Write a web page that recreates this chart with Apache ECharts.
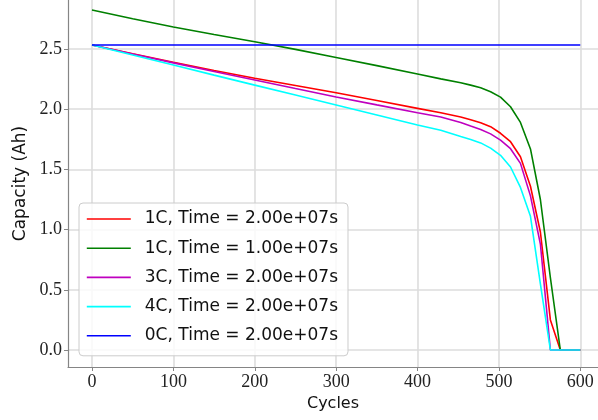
<!DOCTYPE html>
<html>
<head>
<meta charset="utf-8">
<script src="https://cdn.jsdelivr.net/npm/echarts@6/dist/echarts.min.js"></script>
<style>
html,body{margin:0;padding:0;background:#fff;}
#chart{width:598px;height:420px;}
</style>
</head>
<body>
<div id="chart"></div>
<script>
// Cycle positions (x values)
const cycles = [0, 50, 100, 150, 200, 250, 300, 350, 400, 428.6, 453.1, 465.3, 477.6, 489.8, 502.0, 514.3, 526.5, 538.8, 551.0, 563.3, 575.5, 587.8, 600];

// Capacity values (Ah)
const red1C_2e7   = [2.533, 2.460, 2.390, 2.322, 2.257, 2.197, 2.136, 2.072, 2.007, 1.970, 1.935, 1.912, 1.888, 1.855, 1.800, 1.730, 1.605, 1.360, 0.980, 0.250, 0.000, 0.000, 0.000];
const green1C_1e7 = [2.824, 2.752, 2.683, 2.620, 2.560, 2.497, 2.430, 2.362, 2.292, 2.252, 2.220, 2.200, 2.178, 2.145, 2.100, 2.020, 1.890, 1.670, 1.250, 0.600, 0.000, 0.000, 0.000];
const mag3C_2e7   = [2.533, 2.458, 2.385, 2.313, 2.243, 2.172, 2.102, 2.036, 1.971, 1.935, 1.890, 1.860, 1.832, 1.795, 1.743, 1.672, 1.550, 1.280, 0.880, 0.000, 0.000, 0.000, 0.000];
const cyan4C_2e7  = [2.533, 2.450, 2.367, 2.283, 2.200, 2.118, 2.035, 1.952, 1.869, 1.825, 1.773, 1.748, 1.720, 1.677, 1.617, 1.520, 1.350, 1.110, 0.550, 0.000, 0.000, 0.000, 0.000];
const blue0C_2e7  = [2.533, 2.533, 2.533, 2.533, 2.533, 2.533, 2.533, 2.533, 2.533, 2.533, 2.533, 2.533, 2.533, 2.533, 2.533, 2.533, 2.533, 2.533, 2.533, 2.533, 2.533, 2.533, 2.533];

const seriesNames = ['1C, Time = 2.00e+07s', '1C, Time = 1.00e+07s', '3C, Time = 2.00e+07s', '4C, Time = 2.00e+07s', '0C, Time = 2.00e+07s'];
const seriesValues = [red1C_2e7, green1C_1e7, mag3C_2e7, cyan4C_2e7, blue0C_2e7];
const seriesColors = ['#ff0000', '#008000', '#bf00bf', '#00ffff', '#0000ff'];

const xTicks = [0, 100, 200, 300, 400, 500, 600];
const yTicks = [0.0, 0.5, 1.0, 1.5, 2.0, 2.5];

const chart = echarts.init(document.getElementById('chart'), null, {renderer: 'canvas'});

const series = seriesNames.map((name, i) => ({
  name: name,
  type: 'line',
  data: cycles.map((c, j) => [c, seriesValues[i][j]]),
  showSymbol: false,
  symbol: 'none',
  lineStyle: {color: seriesColors[i], width: 1.6},
  itemStyle: {color: seriesColors[i]},
  emphasis: {disabled: true},
  animation: false,
  z: 2 + i
}));

const gridColor = '#dddddd';
const axisColor = '#858585';

chart.setOption({
  animation: false,
  backgroundColor: '#ffffff',
  grid: {left: 68, right: 0, top: 0, bottom: 53, containLabel: false},
  xAxis: {
    type: 'value',
    min: -29.5,
    max: 621.8,
    name: 'Cycles',
    nameLocation: 'middle',
    nameGap: 25,
    nameTextStyle: {fontFamily: 'DejaVu Sans', fontSize: 16, color: '#111'},
    axisLine: {show: true, onZero: false, lineStyle: {color: axisColor, width: 1.2}},
    axisTick: {show: true, length: 4, customValues: xTicks, lineStyle: {color: axisColor, width: 1}},
    axisLabel: {show: true, customValues: xTicks, margin: 6, fontFamily: 'Liberation Serif', fontSize: 18, color: '#222',
      formatter: v => String(Math.round(v))},
    splitLine: {show: true, lineStyle: {color: gridColor, width: 1.6}}
  },
  yAxis: {
    type: 'value',
    min: -0.1412,
    max: 2.907,
    name: 'Capacity (Ah)',
    nameLocation: 'middle',
    nameGap: 35,
    nameTextStyle: {fontFamily: 'DejaVu Sans', fontSize: 17, color: '#111'},
    axisLine: {show: true, onZero: false, lineStyle: {color: axisColor, width: 1.2}},
    axisTick: {show: true, length: 4, customValues: yTicks, lineStyle: {color: axisColor, width: 1}},
    axisLabel: {show: true, customValues: yTicks, margin: 6, fontFamily: 'Liberation Serif', fontSize: 18, color: '#222',
      formatter: v => v.toFixed(1)},
    splitLine: {show: true, lineStyle: {color: gridColor, width: 1.6}}
  },
  legend: {
    show: true,
    orient: 'vertical',
    left: 79,
    top: 203,
    data: seriesNames,
    itemWidth: 44,
    itemHeight: 14,
    itemGap: 9.2,
    padding: [6, 10, 10, 7],
    backgroundColor: 'rgba(255,255,255,0.8)',
    borderColor: '#cccccc',
    borderWidth: 1,
    borderRadius: 4,
    selectedMode: false,
    itemStyle: {opacity: 0},
    lineStyle: {width: 1.6},
    textStyle: {fontFamily: 'DejaVu Sans', fontSize: 17, color: '#111', lineHeight: 20, padding: [0, 0, 0, 9]}
  },
  series: series
});
</script>
</body>
</html>
